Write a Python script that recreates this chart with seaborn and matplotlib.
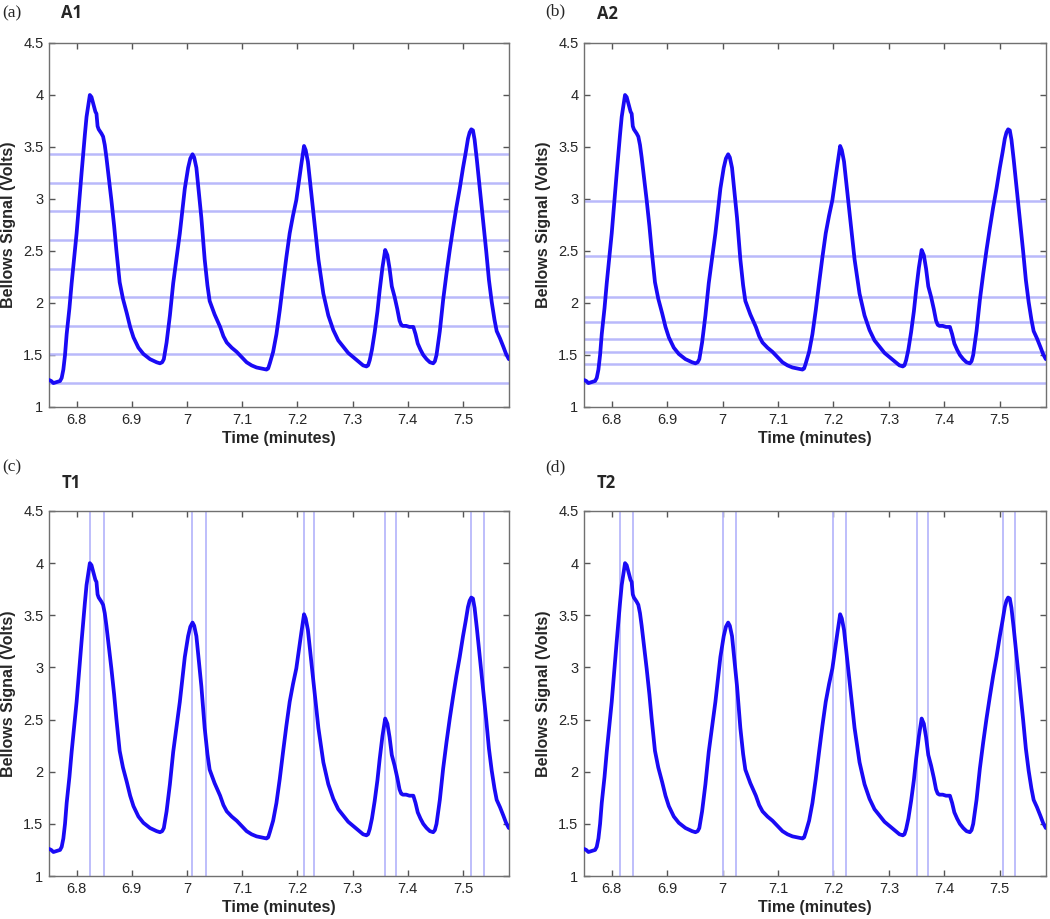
import numpy as np
import pandas as pd
import seaborn as sns
import matplotlib.pyplot as plt

# bellows trace (minutes, volts)
time = [6.750, 6.754, 6.758, 6.764, 6.770, 6.773, 6.776, 6.779, 6.782, 6.787,
        6.791, 6.800, 6.809, 6.815, 6.818, 6.822, 6.824, 6.827, 6.830, 6.834,
        6.836, 6.838, 6.840, 6.845, 6.848, 6.851, 6.854, 6.858, 6.863, 6.868,
        6.872, 6.878, 6.884, 6.891, 6.897, 6.903, 6.912, 6.921, 6.933, 6.945,
        6.951, 6.955, 6.958, 6.963, 6.969, 6.975, 6.981, 6.987, 6.996, 7.002,
        7.006, 7.010, 7.013, 7.017, 7.021, 7.026, 7.032, 7.037, 7.041, 7.050,
        7.060, 7.066, 7.072, 7.081, 7.090, 7.099, 7.108, 7.117, 7.126, 7.135,
        7.144, 7.147, 7.150, 7.156, 7.162, 7.168, 7.174, 7.180, 7.186, 7.192,
        7.198, 7.203, 7.207, 7.212, 7.215, 7.219, 7.223, 7.228, 7.233, 7.238,
        7.247, 7.256, 7.265, 7.274, 7.283, 7.292, 7.301, 7.310, 7.319, 7.325,
        7.328, 7.331, 7.335, 7.340, 7.345, 7.349, 7.354, 7.359, 7.363, 7.367,
        7.371, 7.376, 7.381, 7.385, 7.388, 7.391, 7.397, 7.403, 7.407, 7.410,
        7.414, 7.418, 7.423, 7.428, 7.434, 7.440, 7.446, 7.449, 7.452, 7.458,
        7.464, 7.470, 7.476, 7.482, 7.488, 7.494, 7.500, 7.505, 7.509, 7.512,
        7.515, 7.518, 7.521, 7.525, 7.530, 7.536, 7.542, 7.547, 7.552, 7.557,
        7.561, 7.567, 7.573, 7.578, 7.583]
signal = [1.26, 1.25, 1.23, 1.24, 1.25, 1.28, 1.36, 1.50, 1.70, 1.95,
          2.19, 2.67, 3.25, 3.62, 3.79, 3.93, 4.00, 3.98, 3.92, 3.84,
          3.82, 3.70, 3.67, 3.63, 3.60, 3.52, 3.40, 3.22, 2.99, 2.74,
          2.51, 2.20, 2.04, 1.90, 1.77, 1.67, 1.57, 1.51, 1.46, 1.43,
          1.42, 1.43, 1.46, 1.62, 1.88, 2.19, 2.43, 2.67, 3.10, 3.30,
          3.39, 3.43, 3.40, 3.30, 3.09, 2.82, 2.42, 2.17, 2.02, 1.89,
          1.77, 1.68, 1.62, 1.57, 1.53, 1.48, 1.43, 1.40, 1.38, 1.37,
          1.36, 1.37, 1.42, 1.53, 1.70, 1.93, 2.19, 2.44, 2.67, 2.84,
          2.99, 3.18, 3.33, 3.51, 3.47, 3.36, 3.16, 2.92, 2.65, 2.42,
          2.09, 1.88, 1.74, 1.64, 1.58, 1.52, 1.48, 1.44, 1.40, 1.39,
          1.40, 1.45, 1.55, 1.72, 1.92, 2.12, 2.34, 2.51, 2.46, 2.33,
          2.16, 2.06, 1.94, 1.83, 1.79, 1.78, 1.78, 1.77, 1.77, 1.77,
          1.70, 1.61, 1.55, 1.50, 1.46, 1.43, 1.42, 1.44, 1.50, 1.73,
          2.03, 2.28, 2.51, 2.72, 2.92, 3.10, 3.30, 3.45, 3.58, 3.64,
          3.67, 3.66, 3.57, 3.38, 3.12, 2.80, 2.50, 2.22, 2.01, 1.84,
          1.73, 1.66, 1.58, 1.51, 1.46]

# threshold levels (A panels) and time marks (T panels)
a1_levels = [3.43, 3.154, 2.881, 2.609, 2.33, 2.058, 1.779, 1.506, 1.231]
a2_levels = [2.984, 2.449, 2.058, 1.814, 1.651, 1.529, 1.417, 1.231]
t1_marks = [6.825, 6.849, 7.009, 7.035, 7.212, 7.230, 7.359, 7.379, 7.515, 7.538]
t2_marks = [6.815, 6.839, 7.000, 7.024, 7.200, 7.223, 7.351, 7.371, 7.506, 7.527]

x_ticks = [6.8, 6.9, 7.0, 7.1, 7.2, 7.3, 7.4, 7.5]
x_ticklabels = ['6.8', '6.9', '7', '7.1', '7.2', '7.3', '7.4', '7.5']
y_ticks = [1, 1.5, 2, 2.5, 3, 3.5, 4, 4.5]
y_ticklabels = ['1', '1.5', '2', '2.5', '3', '3.5', '4', '4.5']

df = pd.DataFrame({'time': time, 'signal': signal})

sns.set_style('ticks')
plt.rcParams['font.family'] = ['Liberation Sans', 'DejaVu Sans']

fig = plt.figure(figsize=(10.5, 9.19), dpi=100)
W, H = 1050, 919
boxes = [(49, 43, 509, 407), (584, 43, 1046, 407),
         (49, 511, 509, 876), (584, 511, 1046, 876)]
panels = [('(a)', 'A1', 'h', a1_levels), ('(b)', 'A2', 'h', a2_levels),
          ('(c)', 'T1', 'v', t1_marks), ('(d)', 'T2', 'v', t2_marks)]
tag_pos = [((2, 13), (61, 13)), ((545, 11), (597, 14)),
           ((2, 467), (62, 483)), ((545, 467), (597, 483))]

curve_col = '#1a0af5'
ref_col = '#b9b9fb'

for (l, t, r, b), (tag, name, kind, refs), ((tx, ty), (nx, ny)) in zip(boxes, panels, tag_pos):
    ax = fig.add_axes([l / W, 1 - b / H, (r - l) / W, (b - t) / H])
    for v in refs:
        if kind == 'h':
            ax.axhline(v, color=ref_col, lw=1.8, zorder=1)
        else:
            ax.axvline(v, color=ref_col, lw=1.3, zorder=1)
    sns.lineplot(data=df, x='time', y='signal', ax=ax, color=curve_col,
                 linewidth=2.7, zorder=3)
    ax.set_xlim(6.75, 7.5833)
    ax.set_ylim(1, 4.5)
    ax.set_xticks(x_ticks)
    ax.set_xticklabels(x_ticklabels)
    ax.set_yticks(y_ticks)
    ax.set_yticklabels(y_ticklabels)
    ax.tick_params(direction='in', length=4, width=1, color='#555555',
                   top=True, right=True, labelsize=10.5, pad=4)
    for s in ax.spines.values():
        s.set_color('#707070')
        s.set_linewidth(1.0)
        s.set_visible(True)
    ax.set_xlabel('Time (minutes)', fontsize=11.5, fontweight='bold', labelpad=3)
    ax.set_ylabel('Bellows Signal (Volts)', fontsize=11.5, fontweight='bold', labelpad=5)

    fig.text(tx / W, 1 - ty / H, tag, family=['Liberation Serif'], fontsize=12.5,
             ha='left', va='center')
    fig.text(nx / W, 1 - ny / H, name, family=['Open Sans', 'DejaVu Sans'],
             fontweight='bold', fontsize=12, ha='left', va='center')

fig.savefig('out.png', dpi=100)
